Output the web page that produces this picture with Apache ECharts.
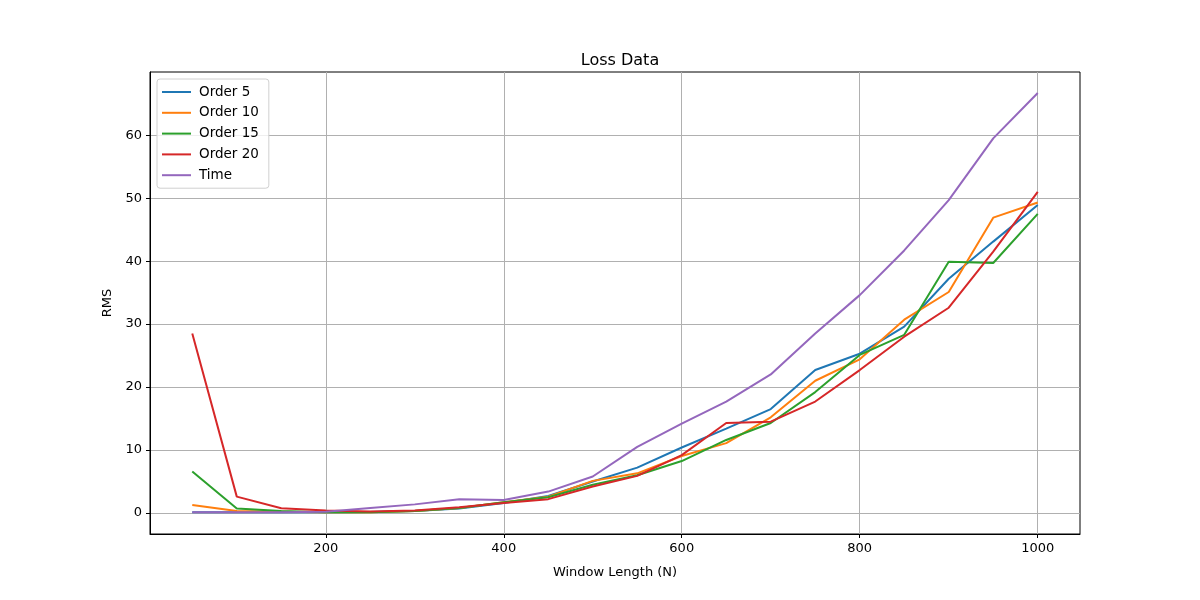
<!DOCTYPE html>
<html>
<head>
<meta charset="utf-8">
<script src="https://cdn.jsdelivr.net/npm/echarts@6/dist/echarts.min.js"></script>
<style>
  html, body { margin: 0; padding: 0; background: #fff; }
  #chart { width: 1200px; height: 600px; }
</style>
</head>
<body>
<div id="chart"></div>
<script>
var windowLength = [50, 100, 150, 200, 250, 300, 350, 400, 450, 500, 550, 600, 650, 700, 750, 800, 850, 900, 950, 1000];
var order5  = [0.1, 0.1, 0.1, 0.1, 0.15, 0.3, 0.7, 1.6, 2.7, 5.0, 7.2, 10.4, 13.4, 16.5, 22.7, 25.3, 29.6, 37.2, 43.1, 48.9];
var order10 = [1.27, 0.3, 0.2, 0.1, 0.1, 0.3, 0.8, 1.7, 2.6, 5.1, 6.3, 9.05, 11.1, 15.2, 21.0, 24.4, 30.7, 35.1, 46.9, 49.3];
var order15 = [6.6, 0.7, 0.3, 0.1, 0.1, 0.3, 0.8, 1.7, 2.5, 4.5, 6.0, 8.25, 11.6, 14.3, 19.2, 25.1, 28.3, 39.9, 39.7, 47.5];
var order20 = [28.5, 2.6, 0.75, 0.4, 0.25, 0.4, 0.9, 1.6, 2.2, 4.2, 5.9, 9.2, 14.3, 14.5, 17.7, 22.7, 28.0, 32.6, 41.5, 51.0];
var timeVals = [0.1, 0.1, 0.1, 0.2, 0.8, 1.37, 2.2, 2.05, 3.4, 5.8, 10.5, 14.2, 17.7, 22.0, 28.5, 34.6, 41.7, 49.7, 59.5, 66.7];
var xTicks = [200, 400, 600, 800, 1000];
var yTicks = [0, 10, 20, 30, 40, 50, 60];

var names = ['Order 5', 'Order 10', 'Order 15', 'Order 20', 'Time'];
var values = [order5, order10, order15, order20, timeVals];
var colors = ['#1f77b4', '#ff7f0e', '#2ca02c', '#d62728', '#9467bd'];

var font = 'DejaVu Sans';

var myChart = echarts.init(document.getElementById('chart'));

var series = [];
for (var i = 0; i < names.length; i++) {
  var pts = [];
  for (var j = 0; j < windowLength.length; j++) {
    pts.push([windowLength[j], values[i][j]]);
  }
  series.push({
    name: names[i],
    type: 'line',
    data: pts,
    symbol: 'none',
    showSymbol: false,
    animation: false,
    lineStyle: { color: colors[i], width: 2 },
    itemStyle: { color: colors[i] }
  });
}

var option = {
  backgroundColor: '#fff',
  animation: false,
  title: {
    text: 'Loss Data',
    left: 615,
    top: 48,
    textAlign: 'center',
    textStyle: { fontFamily: font, fontSize: 16, fontWeight: 'normal', color: '#000' }
  },
  legend: {
    orient: 'vertical',
    left: 157,
    top: 79,
    data: names,
    icon: 'rect',
    itemWidth: 29,
    itemHeight: 2,
    itemGap: 6.8,
    padding: [6, 10, 6, 5],
    backgroundColor: 'rgba(255,255,255,0.8)',
    borderColor: '#d0d0d0',
    borderWidth: 1,
    borderRadius: 3,
    textStyle: { fontFamily: font, fontSize: 13.5, color: '#000', padding: [0, 0, 0, 3] }
  },
  grid: {
    left: 150,
    right: 120,
    top: 72,
    bottom: 66,
    show: true,
    borderColor: '#000',
    borderWidth: 1,
    containLabel: false
  },
  xAxis: {
    type: 'value',
    min: 2.5,
    max: 1047.5,
    name: 'Window Length (N)',
    nameLocation: 'middle',
    nameGap: 32,
    nameTextStyle: { fontFamily: font, fontSize: 13, color: '#000' },
    axisLine: { show: true, onZero: false, lineStyle: { color: '#000', width: 1 } },
    axisTick: { show: true, length: 4, inside: false, customValues: xTicks, lineStyle: { color: '#000' } },
    axisLabel: {
      customValues: xTicks, fontFamily: font, fontSize: 13, color: '#000', margin: 8,
      formatter: function (v) { return String(v); }
    },
    splitLine: { show: true, lineStyle: { color: '#b0b0b0', width: 1 } }
  },
  yAxis: {
    type: 'value',
    min: -3.335,
    max: 70.035,
    name: 'RMS',
    nameLocation: 'middle',
    nameGap: 28,
    nameRotate: 90,
    nameTextStyle: { fontFamily: font, fontSize: 13, color: '#000' },
    axisLine: { show: true, onZero: false, lineStyle: { color: '#000', width: 1 } },
    axisTick: { show: true, length: 4, inside: false, customValues: yTicks, lineStyle: { color: '#000' } },
    axisLabel: {
      customValues: yTicks, fontFamily: font, fontSize: 13, color: '#000', margin: 8,
      formatter: function (v) { return String(v); }
    },
    splitLine: { show: true, lineStyle: { color: '#b0b0b0', width: 1 } }
  },
  series: series
};

myChart.setOption(option);
</script>
</body>
</html>
